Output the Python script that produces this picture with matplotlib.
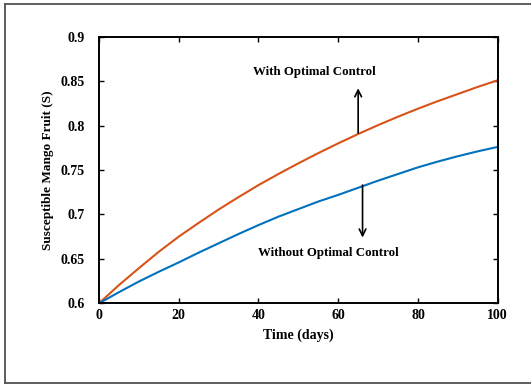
import matplotlib
matplotlib.use("Agg")
import matplotlib.pyplot as plt
from matplotlib.lines import Line2D

# --- data (every 5 days) ---
TIME = [0, 5, 10, 15, 20, 25, 30, 35, 40, 45, 50,
        55, 60, 65, 70, 75, 80, 85, 90, 95, 100]
S_WITH = [0.600, 0.6205, 0.6395, 0.658, 0.675, 0.6905, 0.7055, 0.7195, 0.733, 0.7455, 0.7575,
          0.769, 0.780, 0.7905, 0.8005, 0.810, 0.819, 0.8275, 0.8355, 0.8435, 0.851]
S_WITHOUT = [0.600, 0.6125, 0.6245, 0.6355, 0.646, 0.657, 0.6675, 0.678, 0.688, 0.6975, 0.706,
             0.7145, 0.722, 0.730, 0.738, 0.7455, 0.753, 0.7595, 0.7655, 0.771, 0.776]

X_TICKS = [0, 20, 40, 60, 80, 100]
Y_TICKS = [0.6, 0.65, 0.7, 0.75, 0.8, 0.85, 0.9]
Y_TICKLABELS = ["0.6", "0.65", "0.7", "0.75", "0.8", "0.85", "0.9"]

ORANGE = "#d95319"
BLUE = "#0072bd"

plt.rcParams["font.family"] = ["Liberation Serif", "DejaVu Serif"]
plt.rcParams["font.weight"] = "bold"

W, H = 531, 385
fig = plt.figure(figsize=(W / 100, H / 100), dpi=100)
ax = fig.add_axes([99 / W, 1 - 303.3 / H, (497.7 - 99) / W, (303.3 - 36.7) / H])

ax.plot(TIME, S_WITH, color=ORANGE, lw=1.5)
ax.plot(TIME, S_WITHOUT, color=BLUE, lw=1.5)

ax.set_xlim(0, 100)
ax.set_ylim(0.6, 0.9)
ax.set_xticks(X_TICKS)
ax.set_yticks(Y_TICKS)
ax.set_yticklabels(Y_TICKLABELS)
ax.tick_params(direction="in", length=3.5, width=1.0, top=True, right=True,
               labelsize=10)
ax.tick_params(axis="y", pad=10)
ax.tick_params(axis="x", pad=4)
for s in ax.spines.values():
    s.set_linewidth(1.4)

ax.set_xlabel("Time (days)", fontsize=10, fontweight="bold", labelpad=5)
ax.set_ylabel("Susceptible Mango Fruit (S)", fontsize=9.5, fontweight="bold", labelpad=5)

# arrows + annotations
ax.annotate("", xy=(65.0, 0.842), xytext=(65.0, 0.7916),
            arrowprops=dict(arrowstyle="->", color="black", lw=1.2,
                            mutation_scale=12, shrinkA=0, shrinkB=0))
ax.annotate("", xy=(66.1, 0.674), xytext=(66.1, 0.733),
            arrowprops=dict(arrowstyle="->", color="black", lw=1.2,
                            mutation_scale=12, shrinkA=0, shrinkB=0))
ax.text(53.9, 0.8606, "With Optimal Control", ha="center", va="center",
        fontsize=9.3, fontweight="bold")
ax.text(57.6, 0.657, "Without Optimal Control", ha="center", va="center",
        fontsize=9.3, fontweight="bold")

# outer frame (right side lies off the image)
frame_kw = dict(color="#505050", lw=1.3, transform=fig.transFigure)
fig.add_artist(Line2D([5 / W, 5 / W], [1 - 3.5 / H, 1 - 383 / H], **frame_kw))
fig.add_artist(Line2D([5 / W, 1.0], [1 - 3.5 / H, 1 - 3.5 / H], **frame_kw))
fig.add_artist(Line2D([5 / W, 1.0], [1 - 383 / H, 1 - 383 / H], **frame_kw))

fig.savefig("out.png", dpi=100)
